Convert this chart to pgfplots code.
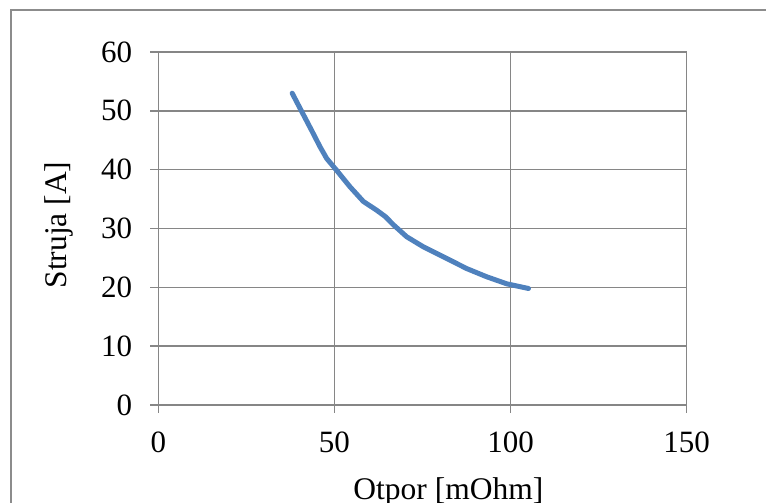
\documentclass[border=0pt]{standalone}
\usepackage{fontspec}
\setmainfont{Liberation Serif}
\usepackage{pgfplots}
\pgfplotsset{compat=1.18}
\definecolor{gridgray}{RGB}{134,134,134}
\definecolor{framegray}{RGB}{140,140,140}
\definecolor{exblue}{RGB}{79,129,189}
\begin{document}
\begin{tikzpicture}[x=1pt,y=1pt]
\clip (0,0) rectangle (766,503);
\useasboundingbox (0,0) rectangle (766,503);
\draw[framegray, line width=2pt] (10.5,-20) -- (10.5,492.5) -- (800,492.5);
\begin{axis}[
  at={(158.3pt,98pt)}, anchor=south west,
  scale only axis, width=528.4pt, height=353pt,
  xmin=0, xmax=150, ymin=0, ymax=60,
  xtick={0,50,100,150}, ytick={0,10,20,30,40,50,60},
  axis lines*=left,
  axis line style={gridgray, line width=1.5pt},
  grid=major,
  major grid style={gridgray, line width=1.5pt},
  tick align=outside,
  major tick length=8pt,
  tick style={gridgray, line width=1.5pt},
  /pgf/number format/assume math mode=true,
  every tick label/.append style={font=\fontsize{31}{37}\selectfont},
  yticklabel style={inner sep=0pt, anchor=east, xshift=-18pt},
  xticklabel style={inner sep=0pt, anchor=north, yshift=-19pt},
  xlabel={Otpor [mOhm]},
  ylabel={Struja [A]},
  label style={font=\fontsize{31.5}{38}\selectfont},
  xlabel style={at={(axis description cs:0.549,-0.204)}, anchor=north, inner sep=0pt},
  ylabel style={at={(axis description cs:-0.1875,0.51)}, anchor=center, rotate=0, inner sep=0pt},
  clip=false,
]
\addplot[exblue, line width=5pt, line cap=round, line join=round] coordinates {
(38.0,53.0) (40.7,49.9) (43.5,46.7) (45.9,43.9) (47.8,41.9) (50.6,39.9)
(54.4,37.1) (58.2,34.6) (62.0,33.1) (64.5,32.0) (66.8,30.6) (70.5,28.6)
(75.2,26.9) (81.9,24.9) (87.5,23.2) (93.2,21.8) (98.9,20.6) (105.1,19.8)
};
\end{axis}
\end{tikzpicture}
\end{document}
